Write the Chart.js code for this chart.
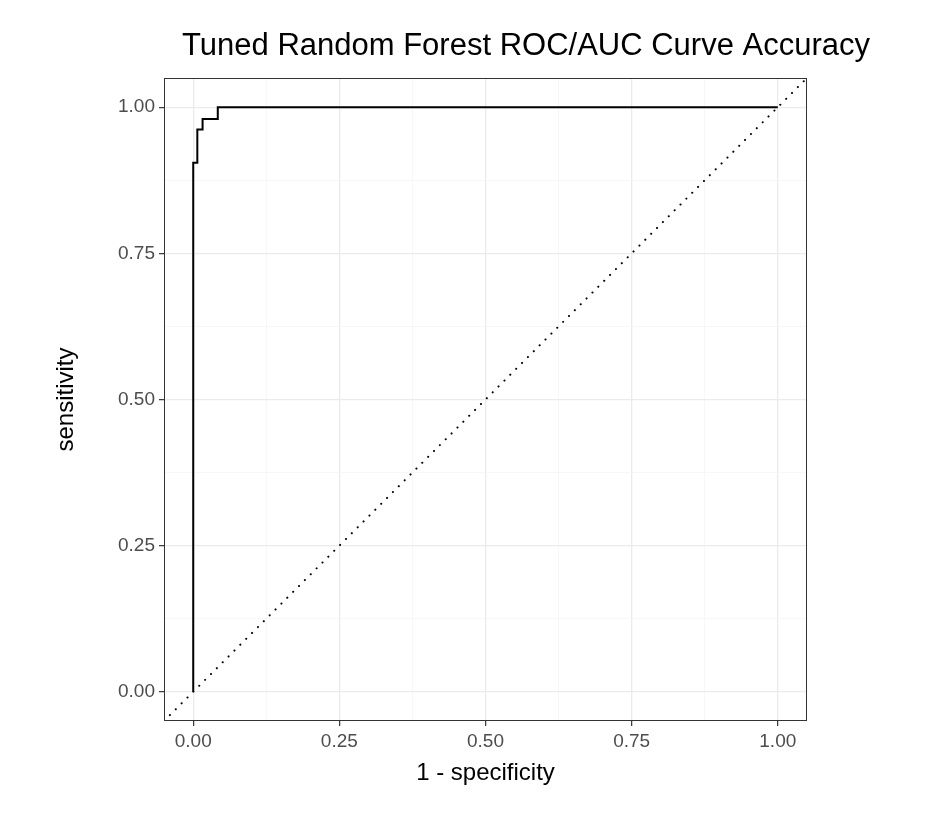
<!DOCTYPE html>
<html><head><meta charset="utf-8">
<script src="https://cdn.jsdelivr.net/npm/chart.js@4"></script>
<style>html,body{margin:0;padding:0;background:#fff}#w{width:952px;height:820px}</style>
</head><body><div id="w"><canvas id="c"></canvas></div>
<script>
const rocX = [0, 0, 0.007, 0.007, 0.016, 0.016, 0.042, 0.042, 1];
const rocY = [0, 0.905, 0.905, 0.962, 0.962, 0.980, 0.980, 1, 1];
const diagX = [-0.05, 1.05];
const diagY = [-0.05, 1.05];
const majorTicks = [0, 0.25, 0.5, 0.75, 1];
const titleText = 'Tuned Random Forest ROC/AUC Curve Accuracy';
const xTitle = '1 - specificity';
const yTitle = 'sensitivity';

const isMajor = v => majorTicks.some(m => Math.abs(m - v) < 1e-6);
const F = 'Liberation Sans, Arial, sans-serif';

const deco = {
  id: 'deco',
  afterDraw(ch) {
    const a = ch.chartArea, ctx = ch.ctx;
    ctx.save();
    ctx.strokeStyle = '#333'; ctx.lineWidth = 1;
    ctx.strokeRect(a.left + 0.5, a.top + 0.5, a.right - a.left - 1, a.bottom - a.top - 1);
    ctx.fillStyle = '#000'; ctx.font = '31px ' + F;
    ctx.textAlign = 'center'; ctx.textBaseline = 'middle';
    ctx.fillText(titleText, 526, 46);
    ctx.font = '24px ' + F;
    ctx.fillText(xTitle, (a.left + a.right) / 2, 773);
    ctx.translate(66, (a.top + a.bottom) / 2);
    ctx.rotate(-Math.PI / 2);
    ctx.fillText(yTitle, 0, 0);
    ctx.restore();
  }
};

const gridOpts = {
  color: c => isMajor(c.tick.value) ? '#ebebeb' : '#f4f4f4',
  lineWidth: c => isMajor(c.tick.value) ? 1.3 : 0.7,
  drawTicks: true, tickLength: 5,
  tickColor: c => isMajor(c.tick.value) ? '#333' : 'rgba(0,0,0,0)', tickWidth: 1.2
};

new Chart(document.getElementById('c'), {
  type: 'scatter',
  data: { datasets: [
    { data: rocX.map((x, i) => ({x, y: rocY[i]})), showLine: true, borderColor: '#000', borderWidth: 2, pointRadius: 0, order: 1 },
    { data: diagX.map((x, i) => ({x, y: diagY[i]})), showLine: true, borderColor: '#000', borderWidth: 2, borderDash: [0.1, 8.2], borderCapStyle: 'round', pointRadius: 0, order: 2 }
  ]},
  options: {
    responsive: true, maintainAspectRatio: false, animation: false,
    layout: { padding: { left: 0, top: 78, right: 145, bottom: 0 } },
    plugins: { legend: { display: false }, tooltip: { enabled: false } },
    scales: {
      x: {
        type: 'linear', min: -0.05, max: 1.05,
        afterBuildTicks: ax => { ax.ticks = [0,0.125,0.25,0.375,0.5,0.625,0.75,0.875,1].map(v => ({value: v})); },
        afterFit: ax => { ax.height = 99; },
        grid: gridOpts, border: { display: false },
        ticks: { padding: 4, color: '#4d4d4d', font: { size: 19, family: F }, callback: v => isMajor(v) ? v.toFixed(2) : '', maxRotation: 0, autoSkip: false },
        title: { display: false }
      },
      y: {
        type: 'linear', min: -0.05, max: 1.05,
        afterBuildTicks: ax => { ax.ticks = [0,0.125,0.25,0.375,0.5,0.625,0.75,0.875,1].map(v => ({value: v})); },
        afterFit: ax => { ax.width = 164; },
        grid: gridOpts, border: { display: false },
        ticks: { padding: 4, color: '#4d4d4d', font: { size: 19, family: F }, callback: v => isMajor(v) ? v.toFixed(2) : '', autoSkip: false },
        title: { display: false }
      }
    }
  },
  plugins: [deco]
});
</script></body></html>
